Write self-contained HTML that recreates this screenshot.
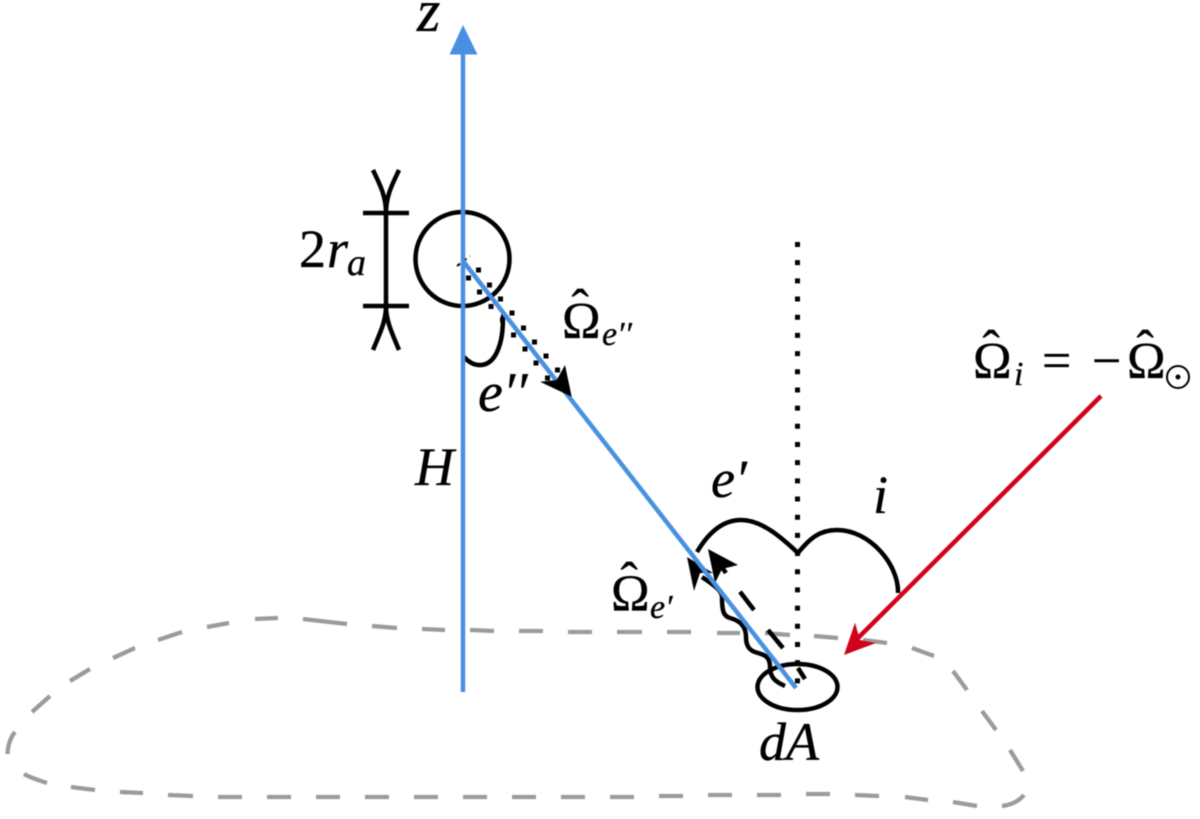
<!DOCTYPE html>
<html><head><meta charset="utf-8"><style>
html,body{margin:0;padding:0;background:#fff}
svg{display:block;filter:blur(.4px)}
text{font-family:"Liberation Serif",serif;fill:#000;stroke:#000;stroke-width:.35px}
.i{font-style:italic}
</style></head><body>
<svg width="1200" height="819" viewBox="0 0 1200 819" xmlns="http://www.w3.org/2000/svg" fill="none">
<path stroke="#9b9b9b" stroke-width="4.300" d="M7.5 754C8 745 10 738 15 732M32 712L50 696M70 681L90 669M113 658L135 648M158 640L182 632M207 627L229 623M255 619L278 618M303 619L347 624M372 626L397 628M422 629L445 630M470 630L494 631M519 631L543 631M568 632L592 632M617 632L642 632M667 632L691 632M717 633L740 633M765 633L790 635M814 636L838 638M863 640L887 643M912 648L934 656M953 671L967 690M982 711L996 730M1010 750L1023 771M1024 795C1018 802 1011 805 1002 806M977 806L953 802M928 800L905 797M879 796L855 795M830 794L806 794M781 795L757 795M732 795L708 795M683 796L659 796M634 797L610 797M585 797L561 797M536 797L512 797M487 797L463 797M438 797L414 797M389 797L365 797M340 797L316 797M291 797L267 797M242 797L218 797M193 796L168 795M143 793L120 792M95 790L71 787M47 783C38 780 31 778 24 774"/>
<path stroke="#000" stroke-width="5" stroke-dasharray="5 13.18" d="M797.5 242V692"/>
<g stroke="#000" stroke-width="4.500">
<circle cx="462.5" cy="259" r="47"/>
<path d="M386 213V306M363 213H409M363 306H409"/>
<path d="M373 170C379 183 386 195 386 213C386 195 393 183 399 170"/>
<path d="M373 350C379 335 386 322 386 306C386 322 393 335 399 350"/>
<path stroke-linecap="round" d="M464 357C474 368 489 369 497 352C502 341 503 330 503 316"/>
<ellipse cx="797.5" cy="687" rx="40" ry="23"/>
<path d="M697 552C710 530 725 520 741 520C762 520 782 538 798 553C810 538 820 530 837 530C870 530 899 565 898 593"/>
<path d="M805 679L798 668M783 648L768 630M754 610L740 591.7M726 573L721 566"/>
<path d="M785 686C776 682 770 678 770 667C770 657 765 655 758 653C750 651 746 647 746 637C746 627 741 621 730 618C723 616 722 610 722 597C722 590 712 584 702 577"/>
</g>
<path fill="#000" d="M708 549L738 565L722 569L715 583Z"/>
<path fill="#000" d="M687 557L713 573L700 573L694 591Z"/>
<g fill="#000">
<rect x="476" y="267.500" width="5" height="5"/><rect x="487" y="282.500" width="5" height="5"/><rect x="498" y="296.500" width="5" height="5"/><rect x="509.500" y="310.500" width="5" height="5"/><rect x="521" y="325.500" width="5" height="5"/><rect x="532" y="339.500" width="5" height="5"/><rect x="543.500" y="353.500" width="5" height="5"/><rect x="555" y="367.500" width="5" height="5"/>
<rect x="466" y="275.500" width="5" height="5"/><rect x="477" y="289.500" width="5" height="5"/><rect x="488.500" y="304" width="5" height="5"/><rect x="500" y="317.500" width="5" height="5"/><rect x="511" y="332.500" width="5" height="5"/><rect x="522.500" y="346.500" width="5" height="5"/><rect x="533.500" y="360.500" width="5" height="5"/><rect x="545" y="375.500" width="5" height="5"/>
</g>
<path stroke="#000" stroke-width="2" stroke-dasharray="4 4" d="M457 266L470 256"/>
<path stroke="#4a90e2" stroke-width="4.500" d="M463 52V692"/>
<path fill="#4a90e2" d="M463 25L477.500 54.500H449.500Z"/>
<path stroke="#4a90e2" stroke-width="4.500" d="M463 261L796 688"/>
<path fill="#000" d="M571.700 396.700L565 365L556.700 380L540 381.700Z"/>
<path stroke="#d0021b" stroke-width="4.500" d="M1101 396L858 638"/>
<path fill="#d0021b" d="M844 655L855 622.700L860 640L876 643Z"/>
<text class="i" x="417" y="31" font-size="60">z</text>
<text x="299" y="267" font-size="54">2</text>
<text class="i" x="327" y="267" font-size="54">r</text>
<text class="i" x="347" y="275" font-size="38">a</text>
<text x="562" y="338" font-size="52">Ω</text>
<text x="571.500" y="325" font-size="52">ˆ</text>
<text class="i" x="602" y="345" font-size="34">e′′</text>
<text class="i" x="478" y="411" font-size="56">e′′</text>
<text class="i" x="415" y="485" font-size="54">H</text>
<text class="i" x="711" y="497" font-size="54">e′</text>
<text class="i" x="873" y="513" font-size="54">i</text>
<text x="611" y="610.700" font-size="52">Ω</text>
<text x="620.500" y="598" font-size="52">ˆ</text>
<text class="i" x="650" y="618" font-size="34">e′</text>
<text class="i" x="759" y="760" font-size="54">dA</text>
<text x="973" y="378" font-size="52">Ω</text>
<text x="982.500" y="366" font-size="52">ˆ</text>
<text class="i" x="1014" y="385" font-size="34">i</text>
<text x="1042" y="378" font-size="52">=</text>
<text x="1092" y="378" font-size="52">−</text>
<text x="1127" y="378" font-size="52">Ω</text>
<text x="1136.500" y="366" font-size="52">ˆ</text>
<circle cx="1178" cy="377" r="11" stroke="#000" stroke-width="2"/>
<circle cx="1178" cy="377" r="2.500" fill="#000"/>
</svg>
</body></html>
